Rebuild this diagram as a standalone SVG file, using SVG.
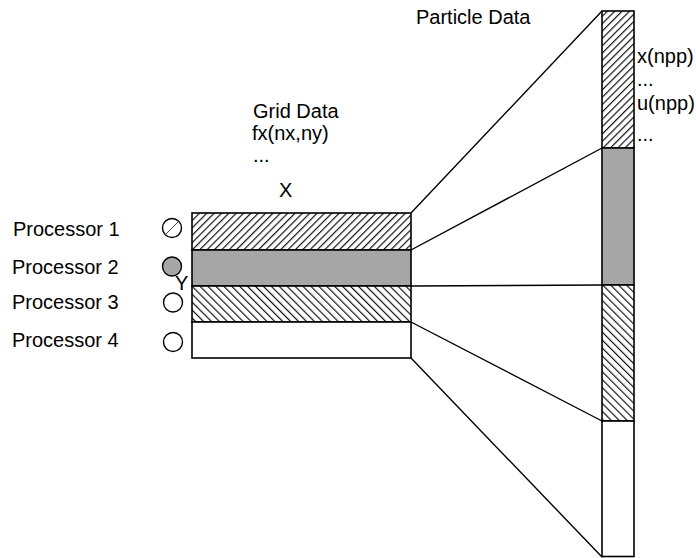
<svg xmlns="http://www.w3.org/2000/svg" width="696" height="558" viewBox="0 0 696 558">
<style>
text{font-family:"Liberation Sans",Arial,sans-serif;font-size:20px;fill:#000}
.box{stroke:#000;stroke-width:1.6}
.conn{stroke:#000;stroke-width:1.4;fill:none}
.circ{stroke:#000;stroke-width:1.4}
</style>
<defs>
<pattern id="hatchF" patternUnits="userSpaceOnUse" width="5.2" height="5.2" patternTransform="rotate(45)">
<rect width="5.2" height="5.2" fill="#fff"/>
<line x1="0.6" y1="0" x2="0.6" y2="5.2" stroke="#000" stroke-width="1.1"/>
</pattern>
<pattern id="hatchB" patternUnits="userSpaceOnUse" width="5.6" height="5.6" patternTransform="rotate(-45)">
<rect width="5.6" height="5.6" fill="#fff"/>
<line x1="0.6" y1="0" x2="0.6" y2="5.6" stroke="#000" stroke-width="1.1"/>
</pattern>
</defs>
<rect width="696" height="558" fill="#fff"/>

<g id="connectors">
<line class="conn" x1="411" y1="213" x2="602" y2="11"/>
<line class="conn" x1="411" y1="250" x2="602" y2="148"/>
<line class="conn" x1="411" y1="286" x2="602" y2="285"/>
<line class="conn" x1="411" y1="322" x2="602" y2="421"/>
<line class="conn" x1="411" y1="358" x2="602" y2="557"/>
</g>

<g id="grid">
<rect class="box" x="192" y="213" width="219" height="37" fill="url(#hatchF)"/>
<rect class="box" x="192" y="250" width="219" height="36" fill="#a6a6a6"/>
<rect class="box" x="192" y="286" width="219" height="36" fill="url(#hatchB)"/>
<rect class="box" x="192" y="322" width="219" height="36" fill="#fff"/>
</g>

<g id="particles">
<rect class="box" x="602" y="11" width="32" height="137" fill="url(#hatchF)"/>
<rect class="box" x="602" y="148" width="32" height="137" fill="#a6a6a6"/>
<rect class="box" x="602" y="285" width="32" height="136" fill="url(#hatchB)"/>
<rect class="box" x="602" y="421" width="32" height="135.5" fill="#fff"/>
</g>

<g id="proc1">
<text x="13" y="236">Processor 1</text>
<circle class="circ" cx="172" cy="228" r="9.5" fill="#fff"/>
<line x1="165.5" y1="234.5" x2="178.5" y2="221.5" stroke="#5a4040" stroke-width="1"/>
</g>
<g id="proc2">
<text x="12" y="274">Processor 2</text>
<circle class="circ" cx="172" cy="266.5" r="9.5" fill="#a6a6a6"/>
<text x="175" y="290">Y</text>
</g>
<g id="proc3">
<text x="12" y="309">Processor 3</text>
<circle class="circ" cx="173" cy="302.5" r="9.5" fill="#fff"/>
</g>
<g id="proc4">
<text x="12" y="347">Processor 4</text>
<circle class="circ" cx="173" cy="342" r="9.5" fill="#fff"/>
</g>

<g id="labels">
<text x="253" y="118">Grid Data</text>
<text x="252" y="140">fx(nx,ny)</text>
<text x="253" y="162">...</text>
<text x="279" y="197">X</text>
<text x="416" y="24">Particle Data</text>
<text x="637" y="63">x(npp)</text>
<text x="637" y="86">...</text>
<text x="637" y="110">u(npp)</text>
<text x="637" y="141">...</text>
</g>
</svg>
